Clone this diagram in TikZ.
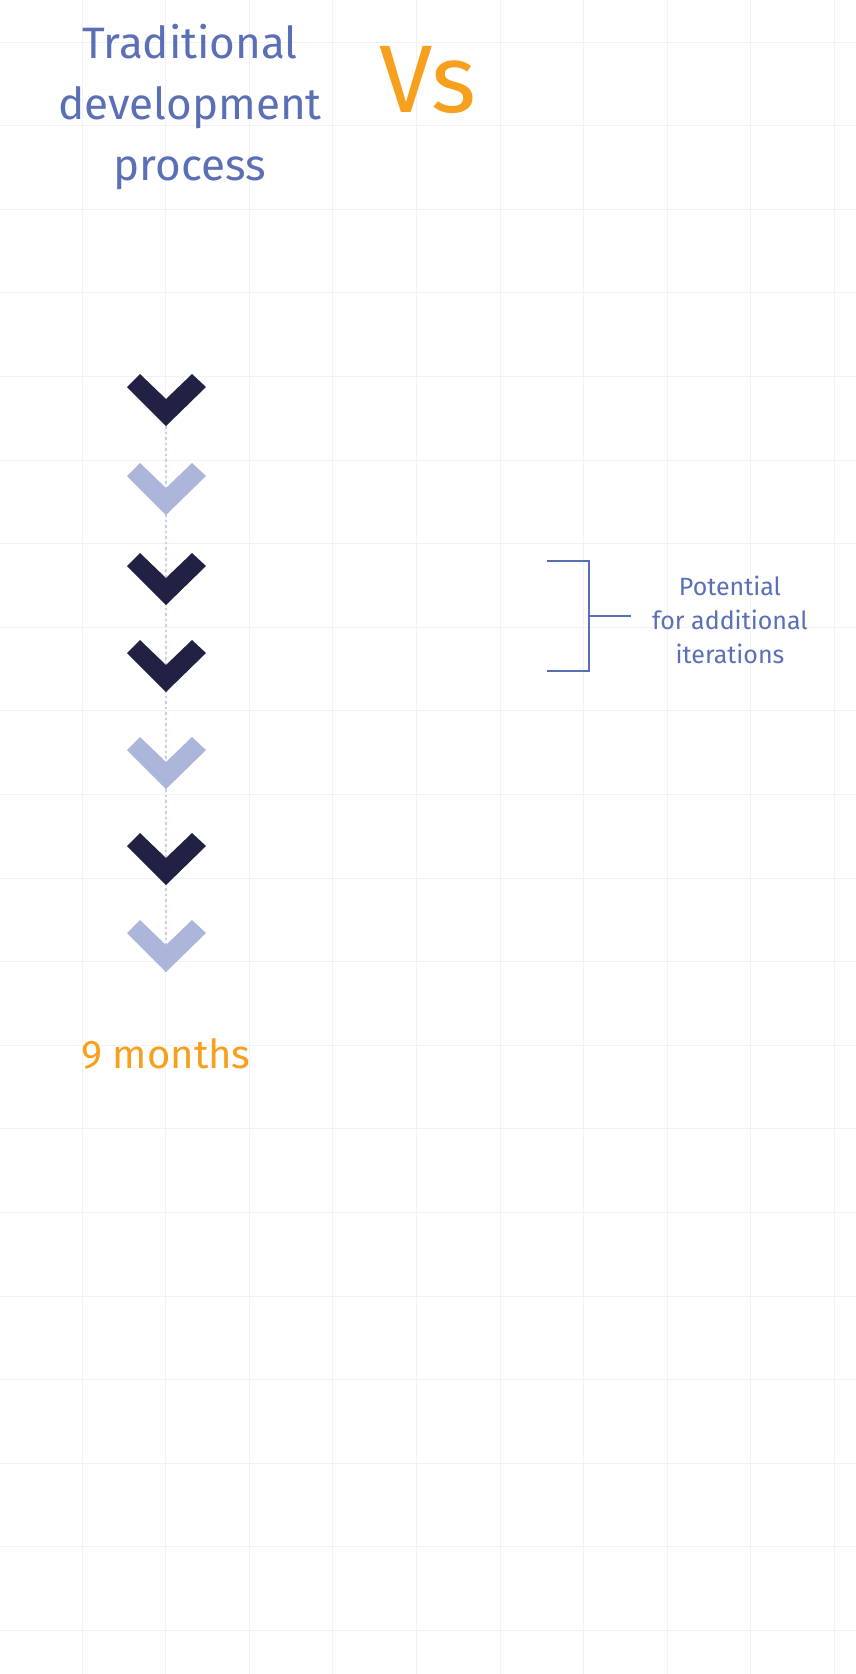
\documentclass[tikz,border=0pt]{standalone}
\usepackage{fontspec}
\setmainfont{Fira Sans}
\definecolor{dark}{HTML}{1A1A3E}
\definecolor{light}{HTML}{AAB4D9}
\definecolor{dotc}{HTML}{C5D0EE}
\definecolor{blue}{HTML}{5A6FB5}
\definecolor{orange}{HTML}{F7A01D}
\definecolor{grid}{HTML}{F1F1F7}
\begin{document}
\begin{tikzpicture}[x=1pt,y=-1pt,
  chev/.style={fill=#1},
  lbl/.style={text=blue,align=center,inner sep=0pt}]
\useasboundingbox (0,0) rectangle (856,1674);
\fill[white] (0,0) rectangle (856,1674);
\foreach \i in {0,...,9} \draw[grid,line width=1pt] (82+83.6*\i,0) -- (82+83.6*\i,1674);
\foreach \i in {0,...,19} \draw[grid,line width=1pt] (0,42+83.6*\i) -- (856,42+83.6*\i);
\coordinate (top) at (166,426);
\coordinate (bot) at (166,972);
\draw[dotc,line width=2.5pt,dash pattern=on 2.5pt off 3pt] (top) -- (bot);
\foreach \y/\c in {373/dark,462/light,552/dark,639/dark,736/light,832/dark,919/light}
  \fill[\c,opacity=0.97] (127,\y+14) -- (140,\y+1) -- (166,\y+26) -- (192,\y+1) -- (206,\y+14) -- (166,\y+53) -- cycle;
\node[lbl,font=\fontsize{44}{61}\selectfont] (title) at (190,107) {Traditional\\development\\process};
\node[text=orange,font=\fontsize{96}{96}\selectfont,inner sep=0pt] (vs) at (428,80) {Vs};
\node[text=orange,font=\fontsize{40}{40}\selectfont,inner sep=0pt] (months) at (166,1054) {9 months};
\coordinate (b1) at (547,561);
\coordinate (b2) at (589,561);
\coordinate (b3) at (589,671);
\coordinate (b4) at (547,671);
\coordinate (bm) at (589,616);
\coordinate (bt) at (631,616);
\draw[blue,line width=1.5pt] (b1) -- (b2) -- (b3) -- (b4);
\draw[blue,line width=1.5pt] (bm) -- (bt);
\node[lbl,font=\fontsize{25}{34}\selectfont] (pot) at (730,620) {Potential\\for additional\\iterations};
\end{tikzpicture}
\end{document}
